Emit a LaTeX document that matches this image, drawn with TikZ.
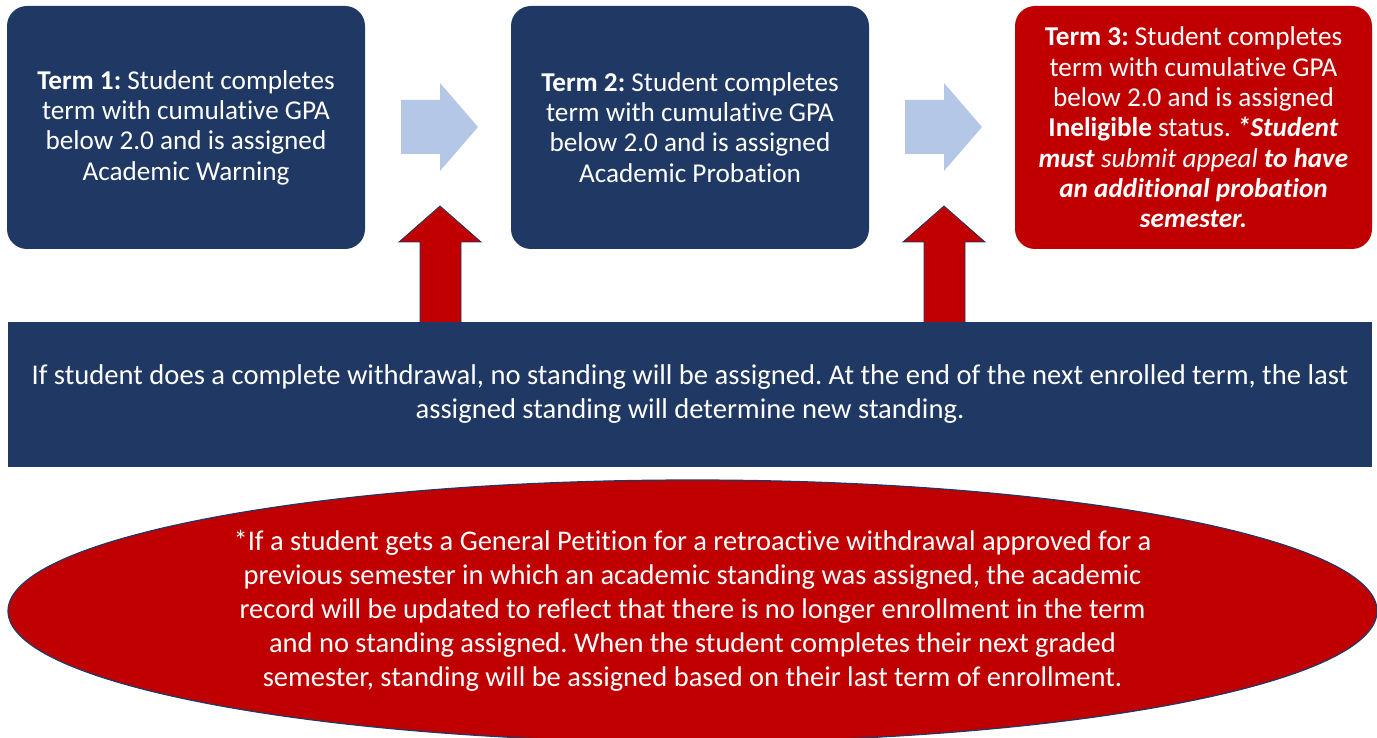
\documentclass[tikz,border=0pt]{standalone}
\usepackage{fontspec}
\setmainfont{Carlito}[Ligatures=NoCommon]
\frenchspacing
\usetikzlibrary{shapes.geometric}
\definecolor{navy}{HTML}{203864}
\definecolor{deepred}{HTML}{C00000}
\definecolor{paleblue}{HTML}{B4C7E7}
\begin{document}
\begin{tikzpicture}[x=1pt,y=-1pt,
  termbox/.style={rectangle, rounded corners=20pt, minimum width=358pt, minimum height=243pt,
    inner sep=0pt, align=center, text=white, font=\fontsize{27.2}{30.3}\selectfont},
  navybox/.style={termbox, fill=navy},
  redbox/.style={termbox, fill=deepred},
  barbox/.style={rectangle, fill=navy, minimum width=1364pt, minimum height=145pt, inner sep=0pt,
    align=center, text=white, font=\fontsize{28.6}{34}\selectfont},
  notebox/.style={ellipse, fill=deepred, draw=navy, line width=1.2pt, minimum width=1369pt,
    minimum height=262pt, inner sep=0pt, align=center, text=white, font=\fontsize{28.5}{34}\selectfont},
  flowarrow/.style={fill=paleblue},
  liftarrow/.style={fill=deepred, draw=navy, line width=0.8pt}]
\useasboundingbox (0,0) rectangle (1377,738);

\node[navybox] (t1) at (186,127.5) {\textbf{Term 1:} Student completes\\term with cumulative GPA\\below 2.0 and is assigned\\Academic Warning};
\node[navybox] (t2) at (690,127.5) {\textbf{Term 2:} Student completes\\term with cumulative GPA\\below 2.0 and is assigned\\Academic Probation};
\node[redbox, minimum width=357pt] (t3) at (1193.5,127.5) {\textbf{Term 3:} Student completes\\term with cumulative GPA\\below 2.0 and is assigned\\\textbf{Ineligible} status. \textbf{\textit{*Student}}\\\textbf{\textit{must}} \textit{submit appeal} \textbf{\textit{to have}}\\\textbf{\textit{an additional probation}}\\\textbf{\textit{semester.}}};

% right-pointing block arrows
\foreach \dx in {0, 504}{
  \begin{scope}[xshift=\dx pt]
    \path[flowarrow] (401,100) -- (440,100) -- (440,83) -- (478,127) -- (440,171) -- (440,154) -- (401,154) -- cycle;
  \end{scope}
}

% upward block arrows
\foreach \dx in {0, 504}{
  \begin{scope}[xshift=\dx pt]
    \path[liftarrow] (420,324) -- (420,242) -- (399,242) -- (440,206) -- (481,242) -- (461,242) -- (461,324) -- cycle;
  \end{scope}
}

\node[barbox] (bar) at (690,394.5) {If student does a complete withdrawal, no standing will be assigned. At the end of the next enrolled term, the last\\assigned standing will determine new standing.};

\node[notebox] (note) at (692.5,611) {*If a student gets a General Petition for a retroactive withdrawal approved for a\\previous semester in which an academic standing was assigned, the academic\\record will be updated to reflect that there is no longer enrollment in the term\\and no standing assigned. When the student completes their next graded\\semester, standing will be assigned based on their last term of enrollment.};
\end{tikzpicture}
\end{document}
